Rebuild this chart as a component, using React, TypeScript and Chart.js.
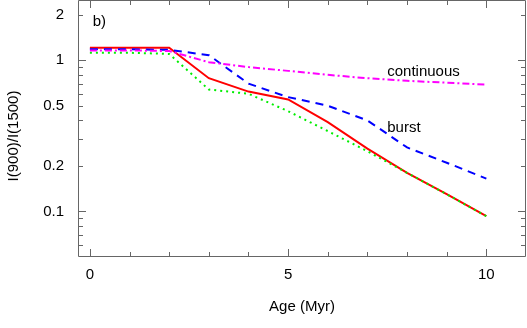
import { useEffect, useRef } from 'react';
import { Chart, registerables } from 'chart.js';

Chart.register(...registerables);

// ---- data ----
const ages = [0, 1, 2, 3, 4, 5, 6, 7, 8, 9, 10];
const redSolid = [1.21, 1.21, 1.21, 0.76, 0.62, 0.55, 0.39, 0.26, 0.18, 0.13, 0.093];
const greenDotted = [1.12, 1.12, 1.1, 0.64, 0.6, 0.46, 0.34, 0.25, 0.18, 0.13, 0.093];
const blueDashed = [1.18, 1.18, 1.17, 1.08, 0.7, 0.57, 0.5, 0.4, 0.265, 0.21, 0.165];
const magentaDashDot = [1.16, 1.16, 1.15, 0.97, 0.9, 0.85, 0.8, 0.76, 0.73, 0.71, 0.69];

const xTickValues = [0, 5, 10];
const yTickValues = [0.1, 0.2, 0.5, 1, 2];
const xMinorTicks = [0, 1, 2, 3, 4, 5, 6, 7, 8, 9, 10];
const xMajorTicks = [0, 5, 10];
const yMinorTicks = [0.06, 0.07, 0.08, 0.09, 0.2, 0.3, 0.4, 0.5, 0.6, 0.7, 0.8, 0.9, 2];
const yMajorTicks = [0.1, 1];

const xTitle = 'Age (Myr)';
const yTitle = 'I(900)/I(1500)';
const annotations = [
  { text: 'b)', x: 0.07, y: 1.79 },
  { text: 'continuous', x: 7.5, y: 0.84 },
  { text: 'burst', x: 7.5, y: 0.356 },
];

const FONT = '"Liberation Sans", Arial, sans-serif';
const AXIS_COLOR = '#666666';

const framePlugin = {
  id: 'frameTicks',
  afterDraw(chart: any) {
    const { ctx, chartArea } = chart;
    const xs = chart.scales.x;
    const ys = chart.scales.y;
    const { left, right, top, bottom } = chartArea;
    ctx.save();
    ctx.strokeStyle = AXIS_COLOR;
    ctx.lineWidth = 1;
    ctx.beginPath();
    ctx.rect(left + 0.5, top + 0.5, right - left - 1, bottom - top - 1);
    ctx.stroke();
    ctx.beginPath();
    for (const v of xMinorTicks) {
      const len = xMajorTicks.includes(v) ? 8 : 5;
      const px = Math.round(xs.getPixelForValue(v)) + 0.5;
      ctx.moveTo(px, bottom);
      ctx.lineTo(px, bottom - len);
      ctx.moveTo(px, top);
      ctx.lineTo(px, top + len);
    }
    for (const v of [...yMinorTicks, ...yMajorTicks]) {
      const len = yMajorTicks.includes(v) ? 8 : 5;
      const py = Math.round(ys.getPixelForValue(v)) + 0.5;
      ctx.moveTo(left, py);
      ctx.lineTo(left + len, py);
      ctx.moveTo(right, py);
      ctx.lineTo(right - len, py);
    }
    ctx.stroke();

    ctx.fillStyle = '#000';
    ctx.font = '15px ' + FONT;
    ctx.textBaseline = 'middle';
    ctx.textAlign = 'left';
    for (const a of annotations) {
      ctx.fillText(a.text, xs.getPixelForValue(a.x), ys.getPixelForValue(a.y));
    }
    ctx.translate(14, 136);
    ctx.rotate(-Math.PI / 2);
    ctx.textAlign = 'center';
    ctx.fillText(yTitle, 0, 0);
    ctx.restore();
  },
};

export default function App() {
  const ref = useRef<HTMLCanvasElement | null>(null);
  useEffect(() => {
    document.body.style.margin = '0';
    const canvas = ref.current;
    if (!canvas) return;
    const chart = new Chart(canvas, {
      type: 'line',
      data: {
        labels: ages,
        datasets: [
          {
            label: 'magenta',
            data: ages.map((a, i) => ({ x: a, y: magentaDashDot[i] })),
            borderColor: '#ff00ff',
            borderWidth: 2,
            borderDash: [7, 3, 2, 3],
            pointRadius: 0,
            tension: 0,
          },
          {
            label: 'blue',
            data: ages.map((a, i) => ({ x: a, y: blueDashed[i] })),
            borderColor: '#0000ff',
            borderWidth: 2,
            borderDash: [8, 6],
            pointRadius: 0,
            tension: 0,
          },
          {
            label: 'green',
            data: ages.map((a, i) => ({ x: a, y: greenDotted[i] })),
            borderColor: '#00ee00',
            borderWidth: 2,
            borderDash: [2, 4],
            pointRadius: 0,
            tension: 0,
          },
          {
            label: 'red',
            data: ages.map((a, i) => ({ x: a, y: redSolid[i] })),
            borderColor: '#ff0000',
            borderWidth: 2,
            pointRadius: 0,
            tension: 0,
          },
        ],
      },
      options: {
        animation: false,
        responsive: false,
        events: [],
        layout: { padding: { top: 0, right: 1, left: 0, bottom: 0 } },
        plugins: { legend: { display: false }, tooltip: { enabled: false } },
        font: { family: FONT, size: 15 },
        scales: {
          x: {
            type: 'linear',
            min: -0.3,
            max: 11,
            grid: { display: false, drawTicks: false },
            border: { display: false },
            afterBuildTicks: (s: any) => {
              s.ticks = xTickValues.map((v) => ({ value: v }));
            },
            afterFit: (s: any) => {
              s.height = 71;
              s.paddingLeft = 0;
              s.paddingRight = 0;
            },
            ticks: {
              color: '#000',
              padding: 9,
              font: { family: FONT, size: 15 },
              callback: (v: any) => String(v),
            },
            title: {
              display: true,
              text: xTitle,
              color: '#000',
              font: { family: FONT, size: 15 },
              padding: { top: 4, bottom: 12 },
            },
          },
          y: {
            type: 'logarithmic',
            min: 0.05,
            max: 2.5,
            grid: { display: false, drawTicks: false },
            border: { display: false },
            afterBuildTicks: (s: any) => {
              s.ticks = yTickValues.map((v) => ({ value: v }));
            },
            afterFit: (s: any) => {
              s.width = 78;
              s.paddingTop = 0;
              s.paddingBottom = 0;
            },
            ticks: {
              color: '#000',
              padding: 14,
              font: { family: FONT, size: 15 },
              callback: (v: any) => String(v),
            },
          },
        },
      },
      plugins: [framePlugin],
    } as any);
    return () => chart.destroy();
  }, []);
  return <canvas ref={ref} width={527} height={328} style={{ display: 'block' }} />;
}
